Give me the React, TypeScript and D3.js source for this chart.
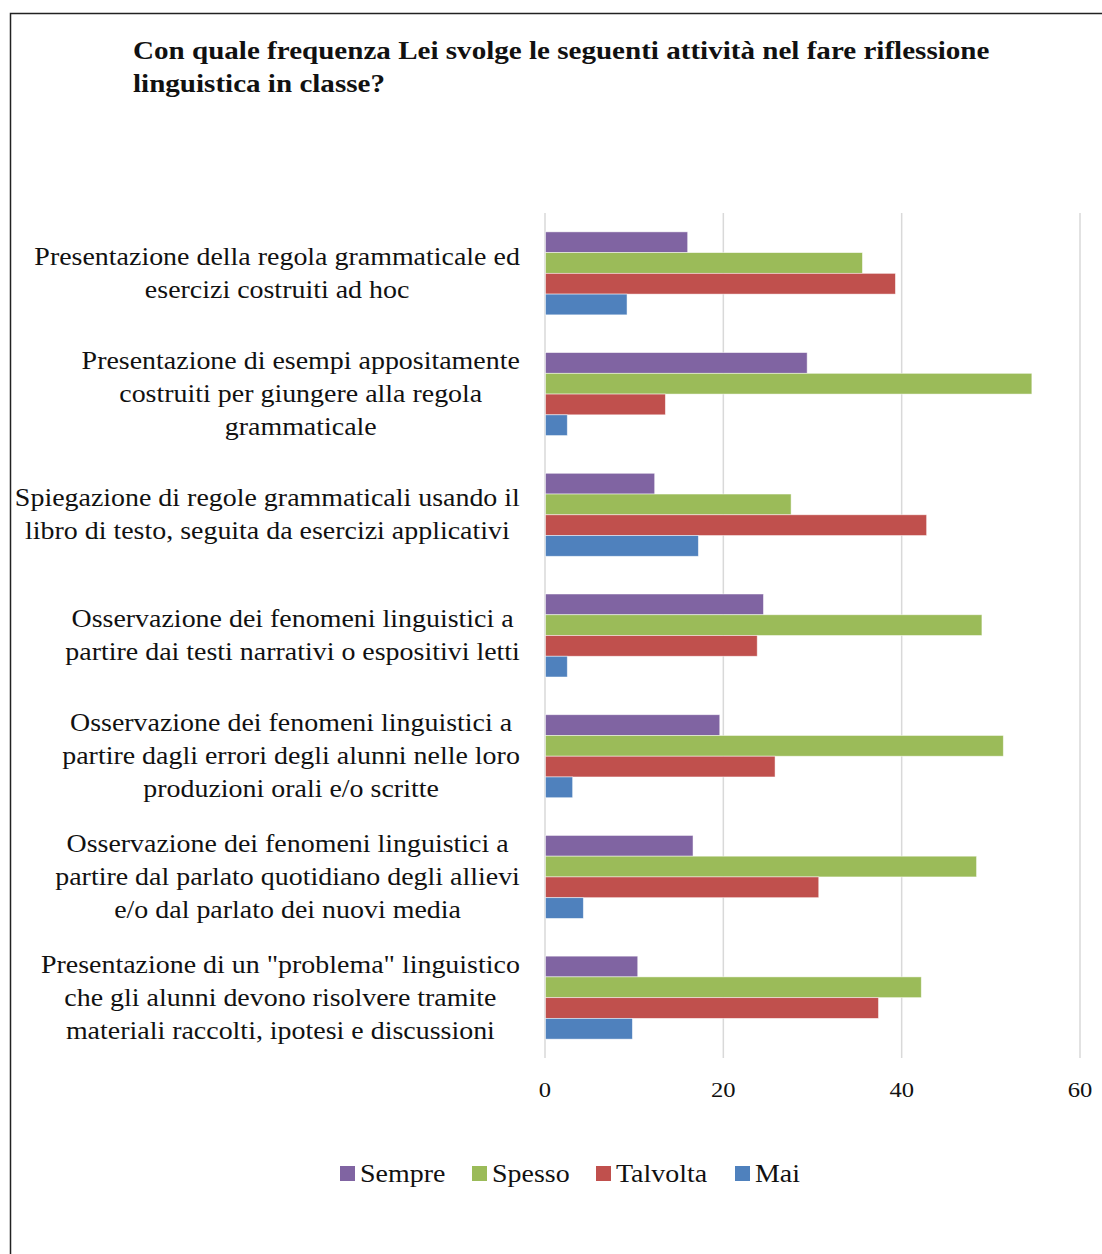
import React, { useEffect, useRef } from "react";
import * as d3 from "d3";

const categories: string[][] = [
  ["Presentazione della regola grammaticale ed", "esercizi costruiti ad hoc"],
  ["Presentazione di esempi appositamente", "costruiti per giungere alla regola", "grammaticale"],
  ["Spiegazione di regole grammaticali usando il", "libro di testo, seguita da esercizi applicativi"],
  ["Osservazione dei fenomeni linguistici a", "partire dai testi narrativi o espositivi letti"],
  ["Osservazione dei fenomeni linguistici a", "partire dagli errori degli alunni nelle loro", "produzioni orali e/o scritte"],
  ["Osservazione dei fenomeni linguistici a", "partire dal parlato quotidiano degli allievi", "e/o dal parlato dei nuovi media"],
  ["Presentazione di un \"problema\" linguistico", "che gli alunni devono risolvere tramite", "materiali raccolti, ipotesi e discussioni"],
];

const seriesNames = ["Sempre", "Spesso", "Talvolta", "Mai"];
const seriesColors = ["#8064A2", "#9BBB59", "#C0504D", "#4F81BD"];

const sempre = [16.0, 29.4, 12.3, 24.5, 19.6, 16.6, 10.4];
const spesso = [35.6, 54.6, 27.6, 49.0, 51.4, 48.4, 42.2];
const talvolta = [39.3, 13.5, 42.8, 23.8, 25.8, 30.7, 37.4];
const mai = [9.2, 2.5, 17.2, 2.5, 3.1, 4.3, 9.8];

const xTicks = [0, 20, 40, 60];

const titleLines = [
  "Con quale frequenza Lei svolge le seguenti attività nel fare riflessione",
  "linguistica in classe?",
];

const FONT = "'Liberation Serif', 'DejaVu Serif', serif";
const SX = 1.118;

export default function App() {
  const ref = useRef<SVGSVGElement | null>(null);

  useEffect(() => {
    const svg = d3.select(ref.current);
    svg.selectAll("*").remove();

    const W = 1102, H = 1254;
    const left = 545, right = 1080, top = 213, bottom = 1058;

    // frame
    svg.append("rect")
      .attr("x", 10.5).attr("y", 13.5)
      .attr("width", 1200).attr("height", 1300)
      .attr("fill", "#fff").attr("stroke", "#222").attr("stroke-width", 1.5);

    // title
    const tg = svg.append("g").attr("transform", "translate(133,0) scale(1.163,1)");
    titleLines.forEach((l, i) => {
      tg.append("text").attr("x", 0).attr("y", 59 + i * 33)
        .attr("font-family", FONT).attr("font-weight", "bold")
        .attr("font-size", 25).attr("fill", "#111").text(l);
    });

    const x = d3.scaleLinear().domain([0, 60]).range([left, right]);
    const y = d3.scaleBand<number>().domain(d3.range(categories.length)).range([top, bottom]).paddingInner(0.3125).paddingOuter(0.15625);
    const data = [sempre, spesso, talvolta, mai];
    const y1 = d3.scaleBand<number>().domain(d3.range(4)).range([0, y.bandwidth()]);

    // gridlines
    svg.append("g").selectAll("line").data(xTicks).join("line")
      .attr("x1", d => x(d)).attr("x2", d => x(d))
      .attr("y1", top).attr("y2", bottom)
      .attr("stroke", "#d9d9d9").attr("stroke-width", 1.5);

    // tick labels
    svg.append("g").selectAll("text").data(xTicks).join("text")
      .attr("transform", d => `translate(${x(d)},1097) scale(${SX},1)`)
      .attr("text-anchor", "middle")
      .attr("font-family", FONT).attr("font-size", 22).attr("fill", "#111")
      .text(d => String(d));

    // bars
    const cg = svg.append("g");
    categories.forEach((_, ci) => {
      data.forEach((arr, si) => {
        cg.append("rect")
          .attr("x", x(0) + 0.5)
          .attr("y", (y(ci) as number) + (y1(si) as number))
          .attr("width", x(arr[ci]) - x(0) - 0.5)
          .attr("height", y1.bandwidth())
          .attr("fill", seriesColors[si])
          .attr("stroke", "rgba(255,255,255,0.6)").attr("stroke-width", 0.8);
      });
    });

    // category labels
    const lh = 33;
    categories.forEach((lines, ci) => {
      const cy = (y(ci) as number) + y.bandwidth() / 2;
      const g = svg.append("g");
      const n = lines.length;
      const texts = lines.map((l, li) =>
        g.append("text")
          .attr("x", 0)
          .attr("y", cy + (li - (n - 1) / 2) * lh + 8)
          .attr("text-anchor", "middle")
          .attr("font-family", FONT).attr("font-size", 25).attr("fill", "#111")
          .text(l)
      );
      let maxW = 0;
      texts.forEach(t => {
        const w = (t.node() as SVGTextElement).getComputedTextLength();
        if (w > maxW) maxW = w;
      });
      g.attr("transform", `translate(${520 - (maxW * SX) / 2},0) scale(${SX},1)`);
    });

    // legend
    const legendX = [340, 472, 596, 735];
    const lg = svg.append("g");
    seriesNames.forEach((name, i) => {
      lg.append("rect").attr("x", legendX[i]).attr("y", 1166).attr("width", 15).attr("height", 15)
        .attr("fill", seriesColors[i]);
      lg.append("text")
        .attr("transform", `translate(${legendX[i] + 20},1182) scale(${SX},1)`)
        .attr("font-family", FONT).attr("font-size", 25).attr("fill", "#111")
        .text(name);
    });

    svg.attr("width", W).attr("height", H);
  }, []);

  return (
    <svg ref={ref} width={1102} height={1254}
      style={{ position: "absolute", left: 0, top: 0, background: "#fff" }} />
  );
}
